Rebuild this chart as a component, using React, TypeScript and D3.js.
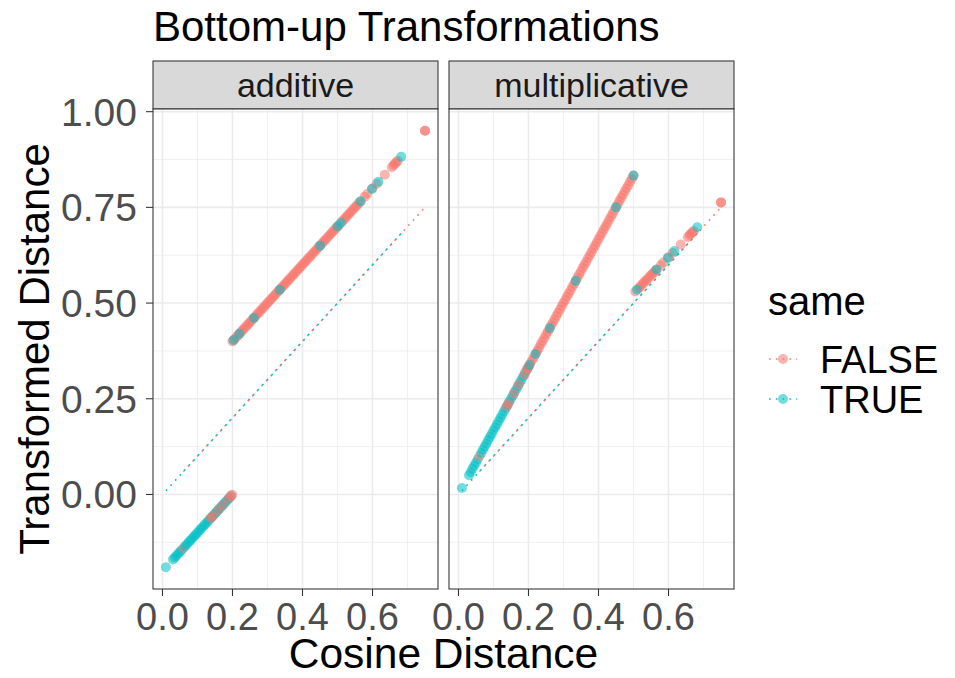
import React from "react";
import * as d3 from "d3";

// Pairwise cosine distances, whether the pair shares a label, and the two transformed distances
const cosineDistance = [
  0.010, 0.030, 0.035, 0.040, 0.045, 0.050, 0.055, 0.060, 0.065, 0.070,
  0.075, 0.080, 0.085, 0.090, 0.095, 0.100, 0.105, 0.110, 0.115, 0.120,
  0.125, 0.130, 0.135, 0.140, 0.145, 0.150, 0.155, 0.160, 0.165, 0.170,
  0.175, 0.180, 0.185, 0.190, 0.195,
  0.138, 0.143, 0.158, 0.172, 0.188, 0.196, 0.199,
  0.200, 0.205, 0.210, 0.215, 0.220, 0.225, 0.230, 0.235, 0.240, 0.245,
  0.250, 0.255, 0.260, 0.265, 0.270, 0.275, 0.280, 0.285, 0.290, 0.295,
  0.300, 0.305, 0.310, 0.315, 0.320, 0.325, 0.330, 0.335, 0.340, 0.345,
  0.350, 0.355, 0.360, 0.365, 0.370, 0.375, 0.380, 0.385, 0.390, 0.395,
  0.400, 0.405, 0.410, 0.415, 0.420, 0.425, 0.430, 0.435, 0.440, 0.445,
  0.450, 0.455, 0.460, 0.465, 0.470, 0.475, 0.480, 0.485, 0.490, 0.495,
  0.500,
  0.505, 0.515, 0.520, 0.525, 0.530, 0.535, 0.540, 0.545, 0.550, 0.555,
  0.560, 0.565, 0.578, 0.585, 0.600, 0.612, 0.635, 0.655, 0.660, 0.664,
  0.668, 0.672, 0.750, 0.750,
  0.203, 0.220, 0.261, 0.335, 0.450, 0.500, 0.510, 0.566, 0.598, 0.617, 0.682,
];

// 1 = TRUE, 0 = FALSE
const sameFlag = [
  1, 1, 1, 1, 1, 1, 1, 0, 1, 1,
  1, 1, 1, 1, 1, 1, 1, 1, 1, 1,
  1, 1, 1, 1, 1, 1, 1, 1, 1, 1,
  1, 1, 1, 1, 1,
  0, 0, 0, 0, 0, 0, 0,
  0, 0, 0, 0, 0, 0, 0, 0, 0, 0,
  0, 0, 0, 0, 0, 0, 0, 0, 0, 0,
  0, 0, 0, 0, 0, 0, 0, 0, 0, 0,
  0, 0, 0, 0, 0, 0, 0, 0, 0, 0,
  0, 0, 0, 0, 0, 0, 0, 0, 0, 0,
  0, 0, 0, 0, 0, 0, 0, 0, 0, 0,
  0,
  0, 0, 0, 0, 0, 0, 0, 0, 0, 0,
  0, 0, 0, 0, 0, 0, 0, 0, 0, 0,
  0, 0, 0, 0,
  1, 1, 1, 1, 1, 1, 1, 1, 1, 1, 1,
];

const additiveDistance = [
  -0.190, -0.170, -0.165, -0.160, -0.155, -0.150, -0.145, -0.140, -0.135, -0.130,
  -0.125, -0.120, -0.115, -0.110, -0.105, -0.100, -0.095, -0.090, -0.085, -0.080,
  -0.075, -0.070, -0.065, -0.060, -0.055, -0.050, -0.045, -0.040, -0.035, -0.030,
  -0.025, -0.020, -0.015, -0.010, -0.005,
  -0.062, -0.057, -0.042, -0.028, -0.012, -0.004, -0.001,
  0.400, 0.405, 0.410, 0.415, 0.420, 0.425, 0.430, 0.435, 0.440, 0.445,
  0.450, 0.455, 0.460, 0.465, 0.470, 0.475, 0.480, 0.485, 0.490, 0.495,
  0.500, 0.505, 0.510, 0.515, 0.520, 0.525, 0.530, 0.535, 0.540, 0.545,
  0.550, 0.555, 0.560, 0.565, 0.570, 0.575, 0.580, 0.585, 0.590, 0.595,
  0.600, 0.605, 0.610, 0.615, 0.620, 0.625, 0.630, 0.635, 0.640, 0.645,
  0.650, 0.655, 0.660, 0.665, 0.670, 0.675, 0.680, 0.685, 0.690, 0.695,
  0.700,
  0.705, 0.715, 0.720, 0.725, 0.730, 0.735, 0.740, 0.745, 0.750, 0.755,
  0.760, 0.765, 0.778, 0.785, 0.800, 0.812, 0.835, 0.855, 0.860, 0.864,
  0.868, 0.872, 0.950, 0.950,
  0.403, 0.420, 0.461, 0.535, 0.650, 0.700, 0.710, 0.766, 0.798, 0.817, 0.882,
];

const multiplicativeDistance = [
  0.017, 0.050, 0.058, 0.067, 0.075, 0.083, 0.092, 0.100, 0.108, 0.117,
  0.125, 0.133, 0.142, 0.150, 0.158, 0.167, 0.175, 0.183, 0.192, 0.200,
  0.208, 0.217, 0.225, 0.233, 0.242, 0.250, 0.258, 0.267, 0.275, 0.283,
  0.292, 0.300, 0.308, 0.317, 0.325,
  0.230, 0.238, 0.263, 0.287, 0.313, 0.327, 0.332,
  0.333, 0.342, 0.350, 0.358, 0.367, 0.375, 0.383, 0.392, 0.400, 0.408,
  0.417, 0.425, 0.433, 0.442, 0.450, 0.458, 0.467, 0.475, 0.483, 0.492,
  0.500, 0.508, 0.517, 0.525, 0.533, 0.542, 0.550, 0.558, 0.567, 0.575,
  0.583, 0.592, 0.600, 0.608, 0.617, 0.625, 0.633, 0.642, 0.650, 0.658,
  0.667, 0.675, 0.683, 0.692, 0.700, 0.708, 0.717, 0.725, 0.733, 0.742,
  0.750, 0.758, 0.767, 0.775, 0.783, 0.792, 0.800, 0.808, 0.817, 0.825,
  0.833,
  0.530, 0.539, 0.544, 0.549, 0.554, 0.558, 0.563, 0.568, 0.573, 0.577,
  0.582, 0.587, 0.599, 0.606, 0.620, 0.631, 0.653, 0.672, 0.677, 0.681,
  0.685, 0.688, 0.763, 0.763,
  0.338, 0.367, 0.435, 0.558, 0.750, 0.833, 0.535, 0.588, 0.618, 0.636, 0.698,
];

const panelNames = ["additive", "multiplicative"];
const groupLabels = ["FALSE", "TRUE"];
const groupColors = ["#F8766D", "#00BFC4"];
const xBreaks = [0, 0.2, 0.4, 0.6];
const xMinorBreaks = [0.1, 0.3, 0.5, 0.7];
const yBreaks = [0, 0.25, 0.5, 0.75, 1];
const yMinorBreaks = [-0.125, 0.125, 0.375, 0.625, 0.875];

const FONT = "'Liberation Sans', Arial, Helvetica, sans-serif";
const POINT_R = 5;
const POINT_ALPHA = 0.55;

function expand(ext: [number, number], mult = 0.05): [number, number] {
  const s = (ext[1] - ext[0]) * mult;
  return [ext[0] - s, ext[1] + s];
}

export default function App() {
  const width = 955;
  const height = 678;
  const panelLefts = [153, 449];
  const panelWidth = 285;
  const panelTop = 109;
  const panelBottom = 589;
  const stripTop = 61;

  const xExt = d3.extent(cosineDistance) as [number, number];
  const yExt = d3.extent([...additiveDistance, ...multiplicativeDistance]) as [number, number];
  const y = d3.scaleLinear().domain(expand(yExt)).range([panelBottom, panelTop]);
  const xScales = panelLefts.map((l) =>
    d3.scaleLinear().domain(expand(xExt)).range([l, l + panelWidth])
  );
  const panelValues = [additiveDistance, multiplicativeDistance];

  const idx = d3.range(cosineDistance.length);
  const fmtX = d3.format(".1f");
  const fmtY = d3.format(".2f");

  // y = x reference line per group, spanning that group's distance range
  const refLines = [0, 1].map((g) => {
    const vals = idx.filter((i) => sameFlag[i] === g).map((i) => cosineDistance[i]);
    return d3.extent(vals) as [number, number];
  });

  const lineGen = d3.line<[number, number]>();

  return (
    <svg
      width={width}
      height={height}
      style={{ position: "absolute", left: 0, top: 0, background: "#fff" }}
      fontFamily={FONT}
    >
      <text x={153} y={41} fontSize={42} fill="#000">
        Bottom-up Transformations
      </text>

      {panelNames.map((name, p) => {
        const x = xScales[p];
        const left = panelLefts[p];
        const vals = panelValues[p];
        return (
          <g key={name}>
            {/* strip */}
            <rect
              x={left}
              y={stripTop}
              width={panelWidth}
              height={panelTop - stripTop}
              fill="#D9D9D9"
              stroke="#333333"
              strokeWidth={1.07}
            />
            <text
              x={left + panelWidth / 2}
              y={(stripTop + panelTop) / 2}
              dy="0.35em"
              textAnchor="middle"
              fontSize={34}
              fill="#1A1A1A"
            >
              {name}
            </text>

            {/* panel background and grid */}
            <rect x={left} y={panelTop} width={panelWidth} height={panelBottom - panelTop} fill="#fff" />
            {xMinorBreaks.map((b) => (
              <line key={"xm" + b} x1={x(b)} x2={x(b)} y1={panelTop} y2={panelBottom} stroke="#EBEBEB" strokeWidth={0.8} />
            ))}
            {yMinorBreaks.map((b) => (
              <line key={"ym" + b} x1={left} x2={left + panelWidth} y1={y(b)} y2={y(b)} stroke="#EBEBEB" strokeWidth={0.8} />
            ))}
            {xBreaks.map((b) => (
              <line key={"xM" + b} x1={x(b)} x2={x(b)} y1={panelTop} y2={panelBottom} stroke="#EBEBEB" strokeWidth={1.6} />
            ))}
            {yBreaks.map((b) => (
              <line key={"yM" + b} x1={left} x2={left + panelWidth} y1={y(b)} y2={y(b)} stroke="#EBEBEB" strokeWidth={1.6} />
            ))}

            {/* dotted reference lines */}
            {refLines.map((ext, g) => (
              <path
                key={"ref" + g}
                d={lineGen([
                  [x(ext[0]), y(ext[0])],
                  [x(ext[1]), y(ext[1])],
                ]) as string}
                fill="none"
                stroke={groupColors[g]}
                strokeWidth={1.6}
                strokeDasharray="1.6 5.2"
              />
            ))}

            {/* points */}
            {idx.map((i) => (
              <circle
                key={"pt" + i}
                cx={x(cosineDistance[i])}
                cy={y(vals[i])}
                r={POINT_R}
                fill={groupColors[sameFlag[i]]}
                fillOpacity={POINT_ALPHA}
              />
            ))}

            {/* border */}
            <rect
              x={left}
              y={panelTop}
              width={panelWidth}
              height={panelBottom - panelTop}
              fill="none"
              stroke="#333333"
              strokeWidth={1.07}
            />

            {/* x axis */}
            {xBreaks.map((b) => (
              <g key={"xt" + b}>
                <line x1={x(b)} x2={x(b)} y1={panelBottom} y2={panelBottom + 7} stroke="#333333" strokeWidth={1.07} />
                <text x={x(b)} y={630} textAnchor="middle" fontSize={38} fill="#4D4D4D">
                  {fmtX(b)}
                </text>
              </g>
            ))}
          </g>
        );
      })}

      {/* y axis */}
      {yBreaks.map((b) => (
        <g key={"yt" + b}>
          <line x1={146} x2={153} y1={y(b)} y2={y(b)} stroke="#333333" strokeWidth={1.07} />
          <text x={137} y={y(b)} dy="0.36em" textAnchor="end" fontSize={39} fill="#4D4D4D">
            {fmtY(b)}
          </text>
        </g>
      ))}

      <text x={443.5} y={668} textAnchor="middle" fontSize={42.5} fill="#000">
        Cosine Distance
      </text>
      <text
        transform={`translate(49, ${(panelTop + panelBottom) / 2}) rotate(-90)`}
        textAnchor="middle"
        fontSize={42}
        fill="#000"
      >
        Transformed Distance
      </text>

      {/* legend */}
      <text x={768} y={315} fontSize={40} fill="#000">
        same
      </text>
      {groupLabels.map((lab, g) => {
        const cy = 359 + g * 40;
        return (
          <g key={lab}>
            <line x1={769} x2={797} y1={cy} y2={cy} stroke={groupColors[g]} strokeWidth={1.6} strokeDasharray="1.6 5.2" />
            <circle cx={783} cy={cy} r={POINT_R} fill={groupColors[g]} fillOpacity={POINT_ALPHA} />
            <text x={820} y={cy} dy="0.36em" fontSize={38} fill="#000">
              {lab}
            </text>
          </g>
        );
      })}
    </svg>
  );
}
